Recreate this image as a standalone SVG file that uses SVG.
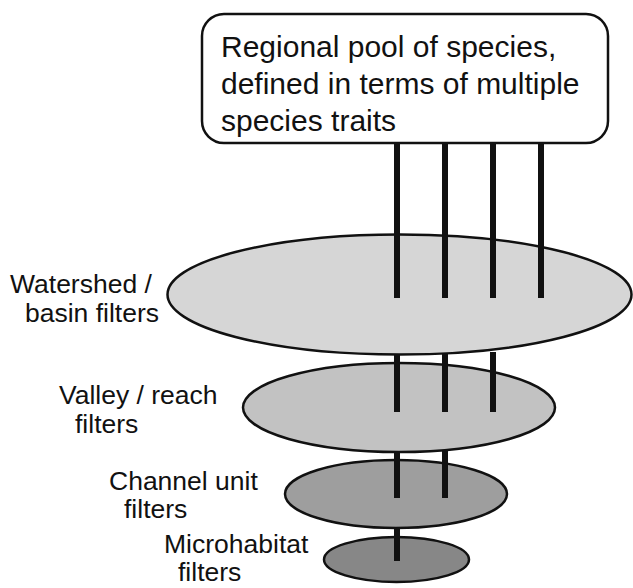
<svg xmlns="http://www.w3.org/2000/svg" width="633" height="588" viewBox="0 0 633 588">
<style>
.lbl{font-family:"Liberation Sans",Arial,sans-serif;font-size:26.5px;fill:#111}
.box{font-family:"Liberation Sans",Arial,sans-serif;font-size:30px;fill:#111}
.ell{stroke:#111;stroke-width:2.5}
.pin{stroke:#111;stroke-width:6;fill:none}
</style>
<rect width="633" height="588" fill="#fff"/>
<g id="pool">
<rect x="202" y="14" width="406" height="129" rx="22" ry="22" fill="#fff" stroke="#111" stroke-width="2.5"/>
<text class="box" x="221" y="57">Regional pool of species,</text>
<text class="box" x="221" y="94">defined in terms of multiple</text>
<text class="box" x="221" y="131">species traits</text>
</g>
<g id="watershed">
<ellipse class="ell" cx="399.5" cy="294.5" rx="232" ry="60" fill="#d6d6d6"/>
<text class="lbl" x="10" y="293">Watershed /</text>
<text class="lbl" x="25" y="322">basin filters</text>
</g>
<g id="valley">
<ellipse class="ell" cx="399" cy="407.5" rx="156" ry="44.5" fill="#c2c2c2"/>
<text class="lbl" x="59" y="404">Valley / reach</text>
<text class="lbl" x="75" y="433">filters</text>
</g>
<g id="channel">
<ellipse class="ell" cx="396" cy="494" rx="111" ry="34" fill="#9e9e9e"/>
<text class="lbl" x="109" y="490">Channel unit</text>
<text class="lbl" x="124" y="518">filters</text>
</g>
<g id="micro">
<ellipse class="ell" cx="396.5" cy="559.5" rx="72.5" ry="22.5" fill="#878787"/>
<text class="lbl" x="164" y="553">Microhabitat</text>
<text class="lbl" x="178" y="581">filters</text>
</g>
<g id="connectors">
<path class="pin" d="M397 143V298M445 143V298M493 143V298M541 143V298"/>
<path class="pin" d="M397 354V412M445 354V412M493 352V412"/>
<path class="pin" d="M397 451V498M445 450V498"/>
<path class="pin" d="M397 528V561"/>
</g>
</svg>
